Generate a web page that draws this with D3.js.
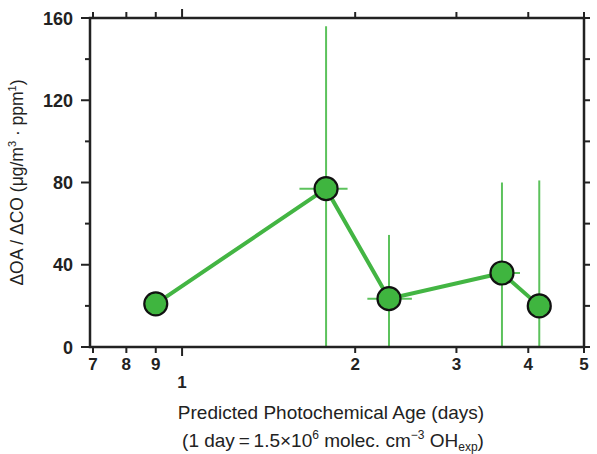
<!DOCTYPE html>
<html>
<head>
<meta charset="utf-8">
<script src="https://cdn.jsdelivr.net/npm/d3@7"></script>
<style>
  body { margin: 0; background: #fff; }
  svg { font-family: "Liberation Sans", Arial, sans-serif; }
</style>
</head>
<body>
<div id="chart"></div>
<script>
// data
const age = [0.9, 1.78, 2.29, 3.6, 4.18];
const ratio = [21, 77, 23.5, 36, 20];
const ageLo = [null, 1.60, 2.10, 3.43, null];
const ageHi = [null, 1.94, 2.51, 3.87, null];
const ratioLo = [null, 0, 0, 0, 0];
const ratioHi = [null, 156, 54.5, 80, 81];

const xTicks = [0.7, 0.8, 0.9, 1, 2, 3, 4, 5];
const xTickLabels = ["7", "8", "9", "1", "2", "3", "4", "5"];
const yMajor = [0, 40, 80, 120, 160];
const yMinor = [20, 60, 100, 140];

const width = 597, height = 454;
const green = "#3fb53f", lineGreen = "#43b543", barGreen = "#5cc25c";

let svg = d3.select("#chart")
    .append("svg")
    .attr("width", width)
    .attr("height", height);

let x = d3.scaleLog().domain([0.7, 5]).range([93, 584]);
let y = d3.scaleLinear().domain([0, 160]).range([347, 18]);

let pLeft = 90, pRight = 584, pTop = 18, pBottom = 347;

// error bars first
let pts = age.map((a, i) => ({a: a, r: ratio[i], xl: ageLo[i], xh: ageHi[i], yl: ratioLo[i], yh: ratioHi[i]}));

let eb = svg.append("g").attr("stroke", barGreen).attr("stroke-width", 2);
eb.selectAll(".v").data(pts.filter(d => d.yh != null)).enter()
    .append("line")
    .attr("x1", d => x(d.a)).attr("x2", d => x(d.a))
    .attr("y1", d => y(d.yl)).attr("y2", d => y(d.yh));
eb.selectAll(".h").data(pts.filter(d => d.xh != null)).enter()
    .append("line")
    .attr("x1", d => x(d.xl)).attr("x2", d => x(d.xh))
    .attr("y1", d => y(d.r)).attr("y2", d => y(d.r));

// connecting line
let line = d3.line().x(d => x(d.a)).y(d => y(d.r));
svg.append("path")
    .datum(pts)
    .attr("d", line)
    .attr("fill", "none")
    .attr("stroke", lineGreen)
    .attr("stroke-width", 4);

svg.selectAll(".dot").data(pts).enter()
    .append("circle")
    .attr("cx", d => x(d.a))
    .attr("cy", d => y(d.r))
    .attr("r", 11.5)
    .attr("fill", green)
    .attr("stroke", "#111")
    .attr("stroke-width", 2.2);

// frame
let ax = svg.append("g").attr("stroke", "#222").attr("stroke-width", 2.5).attr("fill", "none");
ax.append("rect").attr("x", pLeft).attr("y", pTop).attr("width", pRight - pLeft).attr("height", pBottom - pTop);

// x ticks (bottom down, top up)
xTicks.forEach((t, i) => {
    let len = (t == 1) ? 9 : 6;
    ax.append("line").attr("x1", x(t)).attr("x2", x(t)).attr("y1", pBottom).attr("y2", pBottom + len).attr("stroke-width", 2);
    ax.append("line").attr("x1", x(t)).attr("x2", x(t)).attr("y1", pTop).attr("y2", pTop - len).attr("stroke-width", 2);
});

// y ticks
yMajor.forEach(t => {
    ax.append("line").attr("x1", pLeft).attr("x2", pLeft - 9).attr("y1", y(t)).attr("y2", y(t)).attr("stroke-width", 2);
    ax.append("line").attr("x1", pRight).attr("x2", pRight + 6).attr("y1", y(t)).attr("y2", y(t)).attr("stroke-width", 2);
});
yMinor.forEach(t => {
    ax.append("line").attr("x1", pLeft).attr("x2", pLeft - 5).attr("y1", y(t)).attr("y2", y(t)).attr("stroke-width", 2);
    ax.append("line").attr("x1", pRight).attr("x2", pRight + 6).attr("y1", y(t)).attr("y2", y(t)).attr("stroke-width", 2);
});

// tick labels
svg.selectAll(".xl").data(xTicks).enter()
    .append("text")
    .attr("x", d => x(d))
    .attr("y", d => d == 1 ? 388 : 370)
    .attr("text-anchor", "middle")
    .attr("font-size", 17)
    .attr("font-weight", "bold")
    .attr("fill", "#222")
    .text((d, i) => xTickLabels[i]);

svg.selectAll(".yl").data(yMajor).enter()
    .append("text")
    .attr("x", 73)
    .attr("y", d => y(d) + 6.5)
    .attr("text-anchor", "end")
    .attr("font-size", 18)
    .attr("font-weight", "bold")
    .attr("fill", "#222")
    .text(d => d);

// axis titles
let yt = svg.append("text")
    .attr("transform", "translate(23," + ((pTop + pBottom) / 2) + ") rotate(-90)")
    .attr("text-anchor", "middle")
    .attr("font-size", 17.5)
    .attr("fill", "#222");
yt.append("tspan").text("\u0394OA / \u0394CO (\u03bcg/m");
yt.append("tspan").attr("dy", -7).attr("font-size", 11).text("3");
yt.append("tspan").attr("dy", 7).text(" \u00b7 ppm");
yt.append("tspan").attr("dy", -7).attr("font-size", 11).text("1");
yt.append("tspan").attr("dy", 7).text(")");

svg.append("text")
    .attr("x", 331).attr("y", 419)
    .attr("text-anchor", "middle")
    .attr("font-size", 19)
    .attr("fill", "#222")
    .text("Predicted Photochemical Age (days)");

let xt = svg.append("text")
    .attr("x", 333).attr("y", 447)
    .attr("text-anchor", "middle")
    .attr("font-size", 19)
    .attr("fill", "#222");
xt.append("tspan").text("(1 day\u2009=\u20091.5\u00d710");
xt.append("tspan").attr("dy", -8).attr("font-size", 12).text("6");
xt.append("tspan").attr("dy", 8).text(" molec. cm");
xt.append("tspan").attr("dy", -8).attr("font-size", 12).text("\u22123");
xt.append("tspan").attr("dy", 8).text(" OH");
xt.append("tspan").attr("dy", 4).attr("font-size", 12).text("exp");
xt.append("tspan").attr("dy", -4).text(")");
</script>
</body>
</html>
